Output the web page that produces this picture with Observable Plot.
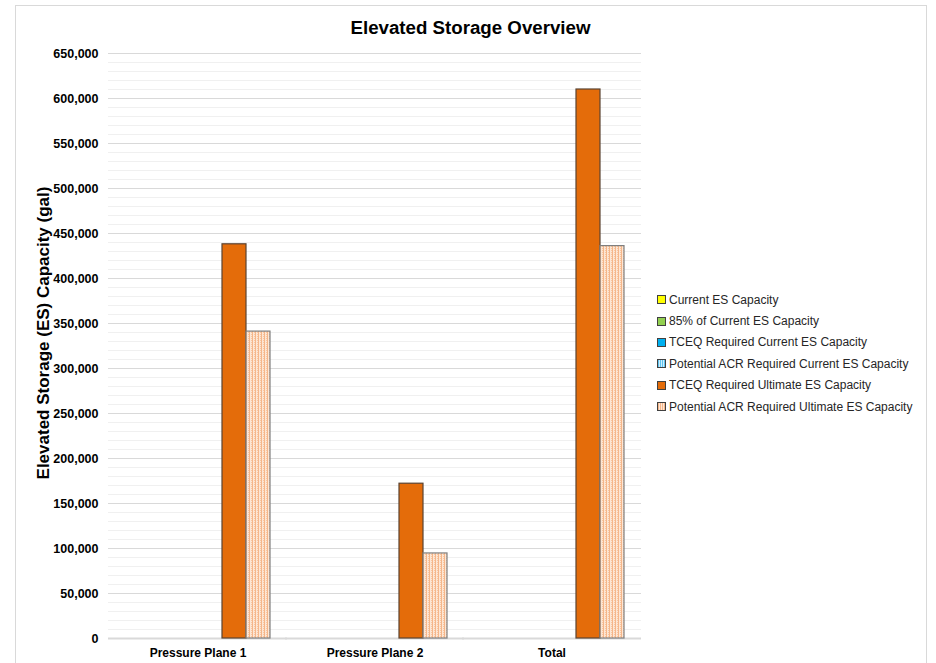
<!DOCTYPE html>
<html><head><meta charset="utf-8">
<script src="https://cdn.jsdelivr.net/npm/d3@7"></script>
<script src="https://cdn.jsdelivr.net/npm/@observablehq/plot@0.6"></script>
<style>
body{margin:0;background:#fff;font-family:"Liberation Sans",Arial,sans-serif;}
#wrap{position:relative;width:936px;height:663px;overflow:hidden;background:#fff;}
#frame{position:absolute;left:15px;top:5px;width:912px;height:700px;border:1px solid #d9d9d9;box-sizing:border-box;}
#title{position:absolute;left:15px;top:17px;width:911px;text-align:center;font-weight:bold;font-size:18.7px;color:#000;}
#chart{position:absolute;left:0;top:40px;}
#legend{position:absolute;left:657px;top:289px;font-size:12px;color:#262626;}
.item{height:21.4px;display:flex;align-items:center;white-space:nowrap;}
.sw{width:7px;height:7px;border:1px solid #404040;margin-right:3px;flex:none;}
</style></head>
<body>
<div id="wrap">
  <div id="frame"></div>
  <div id="title">Elevated Storage Overview</div>
  <div id="chart"></div>
  <div id="legend"></div>
</div>
<script>
const categories = ["Pressure Plane 1", "Pressure Plane 2", "Total"];
const series = [
  "Current ES Capacity",
  "85% of Current ES Capacity",
  "TCEQ Required Current ES Capacity",
  "Potential ACR Required Current ES Capacity",
  "TCEQ Required Ultimate ES Capacity",
  "Potential ACR Required Ultimate ES Capacity"
];
const currentES = [null, null, null];
const pct85CurrentES = [null, null, null];
const tceqRequiredCurrent = [null, null, null];
const acrRequiredCurrent = [null, null, null];
const tceqRequiredUltimate = [438000, 172000, 610000];
const acrRequiredUltimate = [341000, 94500, 436000];
const seriesValues = [currentES, pct85CurrentES, tceqRequiredCurrent, acrRequiredCurrent, tceqRequiredUltimate, acrRequiredUltimate];
const yTickValues = [0, 50000, 100000, 150000, 200000, 250000, 300000, 350000, 400000, 450000, 500000, 550000, 600000, 650000];
const yLabel = "Elevated Storage (ES) Capacity (gal)";

const fills = ["#FFFF00", "#92D050", "#00B0F0", "url(#patAcrCur)", "#E46C0A", "url(#patAcrUlt)"];
const strokes = ["#595959", "#595959", "#595959", "#595959", "#5a4331", "#7f7f7f"];
const legendBg = ["#FFFF00", "#92D050", "#00B0F0",
  "repeating-linear-gradient(90deg,#5fc4f0 0 1px,#cfeefc 1px 2px)",
  "#E46C0A",
  "repeating-linear-gradient(90deg,#f5b68a 0 1px,#fde6d4 1px 2px)"];

const rows = [];
series.forEach((s, i) => categories.forEach((c, j) => {
  const v = seriesValues[i][j];
  if (v != null) rows.push({category: c, series: s, value: v});
}));

const minorTicks = d3.range(0, 650001, 10000);

const chart = Plot.plot({
  width: 936, height: 623,
  marginLeft: 108, marginRight: 295, marginTop: 13, marginBottom: 25,
  style: {fontFamily: "'Liberation Sans', Arial, sans-serif", color: "#000", background: "transparent"},
  fx: {domain: categories, paddingInner: 0.157, paddingOuter: 0.0785, label: null},
  x: {domain: series, padding: 0, axis: null},
  y: {domain: [0, 650000], axis: null},
  marks: [
    Plot.ruleY(minorTicks, {stroke: "#f0f0f0", strokeWidth: 1, insetLeft: -15, insetRight: -15}),
    Plot.ruleY(yTickValues, {stroke: "#d9d9d9", strokeWidth: 1, insetLeft: -15, insetRight: -15}),
    Plot.ruleY([0], {stroke: "#d9d9d9", strokeWidth: 2, insetLeft: -15, insetRight: -15}),
    ...series.map((s, i) => Plot.barY(rows.filter(r => r.series === s), {
      fx: "category", x: "series", y: "value",
      fill: fills[i], stroke: strokes[i], strokeWidth: 1.2
    })),
    Plot.axisY({ticks: yTickValues, tickFormat: d3.format(","), tickSize: 0, tickPadding: 25,
      fontWeight: "bold", fontSize: 12.5, label: null}),
    Plot.axisFx({anchor: "bottom", tickSize: 0, tickPadding: 10, fontWeight: "bold", fontSize: 12, label: null}),
    Plot.text([{fx: categories[0], t: yLabel}], {fx: "fx", text: "t", frameAnchor: "left", rotate: -90,
      textAnchor: "middle", dx: -80, dy: -13, fontSize: 17, fontWeight: "bold", fill: "#000"})
  ]
});

const defs = d3.select(chart).insert("defs", ":first-child");
const p1 = defs.append("pattern").attr("id", "patAcrUlt").attr("patternUnits", "userSpaceOnUse").attr("width", 3).attr("height", 2);
p1.append("rect").attr("width", 3).attr("height", 2).attr("fill", "#fde6d4");
p1.append("rect").attr("x", 0).attr("width", 1).attr("height", 2).attr("fill", "#f5b68a");
p1.append("rect").attr("x", 2).attr("y", 0).attr("width", 1).attr("height", 1).attr("fill", "#f8c6a0");
const p2 = defs.append("pattern").attr("id", "patAcrCur").attr("patternUnits", "userSpaceOnUse").attr("width", 3).attr("height", 2);
p2.append("rect").attr("width", 3).attr("height", 2).attr("fill", "#cfeefc");
p2.append("rect").attr("x", 0).attr("width", 1).attr("height", 2).attr("fill", "#5fc4f0");

document.getElementById("chart").appendChild(chart);

const legend = d3.select("#legend");
series.forEach((s, i) => {
  const it = legend.append("div").attr("class", "item");
  it.append("div").attr("class", "sw").style("background", legendBg[i]);
  it.append("span").text(s);
});
</script>
</body></html>
